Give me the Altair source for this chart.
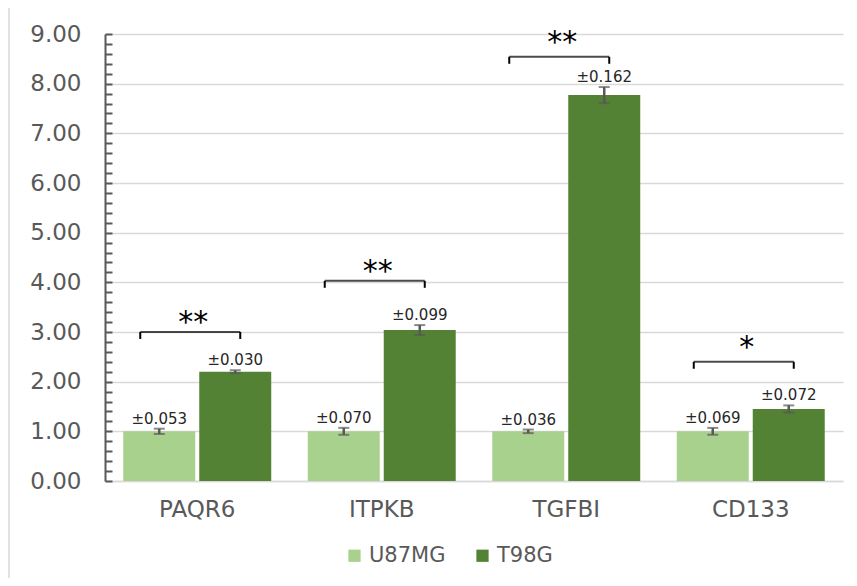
import altair as alt
import pandas as pd

categories = ["PAQR6", "ITPKB", "TGFBI", "CD133"]
series = ["U87MG", "T98G"]
u87_values = [1.00, 1.00, 1.00, 1.00]
t98_values = [2.20, 3.04, 7.77, 1.45]
u87_errors = [0.053, 0.070, 0.036, 0.069]
t98_errors = [0.030, 0.099, 0.162, 0.072]
sig_labels = ["**", "**", "**", "*"]
bracket_level = [3.00, 4.03, 8.54, 2.40]
star_level = [3.28, 4.31, 8.91, 2.78]
y_ticks = [0, 1, 2, 3, 4, 5, 6, 7, 8, 9]
y_minor = [round(i * 0.2, 1) for i in range(46)]

rows = []
for c, v, e in zip(categories, u87_values, u87_errors):
    rows.append({"category": c, "series": "U87MG", "value": v, "err": e})
for c, v, e in zip(categories, t98_values, t98_errors):
    rows.append({"category": c, "series": "T98G", "value": v, "err": e})
df = pd.DataFrame(rows)

sig = pd.DataFrame({"category": categories, "label": sig_labels,
                    "bracket": bracket_level, "star": star_level})

LIGHT = "#A9D18E"
DARK = "#548235"
GREY = "#595959"
GRID = "#D9D9D9"
FONT = "DejaVu Sans"
DROP = 0.14

xscale = alt.Scale(domain=categories, paddingInner=0.198, paddingOuter=0.099)
xoscale = alt.Scale(domain=series, paddingInner=0.0526, paddingOuter=0)
yscale = alt.Scale(domain=[0, 9], nice=False)

x_axis = alt.Axis(labelFont=FONT, labelFontSize=23, labelColor=GREY,
                  labelAngle=0, ticks=False, domainColor=GRID,
                  domainWidth=1.5, labelPadding=17, grid=False)
x_enc = alt.X("category:N", scale=xscale, sort=categories, title=None, axis=x_axis)
xo = alt.XOffset("series:N", scale=xoscale, sort=series)

base = alt.Chart(df)

bars = base.mark_bar().encode(
    x=x_enc,
    xOffset=xo,
    y=alt.Y("value:Q", scale=yscale, title=None,
            axis=alt.Axis(values=y_ticks, format=".2f", labelFont=FONT,
                          labelFontSize=23, labelColor=GREY, ticks=False,
                          labelPadding=24, domainColor=GREY, domainWidth=2,
                          gridColor=GRID, gridWidth=1.5, orient="left")),
    color=alt.Color("series:N", sort=series,
                    scale=alt.Scale(domain=series, range=[LIGHT, DARK]),
                    legend=alt.Legend(title=None, orient="none", direction="horizontal",
                                      legendX=239, legendY=511, symbolType="square",
                                      symbolSize=150, symbolStrokeWidth=0,
                                      labelFont=FONT, labelFontSize=21,
                                      labelColor=GREY, labelOffset=4,
                                      columnPadding=26)),
)

err_rule = base.transform_calculate(
    lo="datum.value - datum.err", hi="datum.value + datum.err"
).mark_rule(color=GREY, strokeWidth=2.5).encode(
    x=x_enc,
    xOffset=xo,
    y=alt.Y("lo:Q", scale=yscale, title=None,
            axis=alt.Axis(values=y_minor, labels=False, grid=False, domain=False,
                          tickSize=7, tickColor=GREY, tickWidth=2, offset=-7,
                          orient="left")),
    y2="hi:Q",
)

cap_top = base.transform_calculate(hi="datum.value + datum.err").mark_tick(
    color=GREY, thickness=2, size=11
).encode(x=x_enc, xOffset=xo, y=alt.Y("hi:Q", scale=yscale, axis=None))

cap_bot = base.transform_calculate(lo="datum.value - datum.err").mark_tick(
    color=GREY, thickness=2, size=11
).encode(x=x_enc, xOffset=xo, y=alt.Y("lo:Q", scale=yscale, axis=None))

err_text = base.transform_calculate(
    hi="datum.value + datum.err",
    txt="'±' + format(datum.err, '.3f')",
).mark_text(font=FONT, fontSize=15, color="#262626", baseline="alphabetic", dy=-5).encode(
    x=x_enc, xOffset=xo, y=alt.Y("hi:Q", scale=yscale, axis=None), text="txt:N"
)

sbase = alt.Chart(sig)

bracket_h = sbase.mark_tick(color="black", thickness=2, size=100, xOffset=-7).encode(
    x=x_enc, y=alt.Y("bracket:Q", scale=yscale, axis=None)
)
bracket_l = sbase.transform_calculate(b2=f"datum.bracket - {DROP}").mark_rule(
    color="black", strokeWidth=2, xOffset=-57
).encode(x=x_enc, y=alt.Y("bracket:Q", scale=yscale, axis=None), y2="b2:Q")
bracket_r = sbase.transform_calculate(b2=f"datum.bracket - {DROP}").mark_rule(
    color="black", strokeWidth=2, xOffset=43
).encode(x=x_enc, y=alt.Y("bracket:Q", scale=yscale, axis=None), y2="b2:Q")

stars = sbase.mark_text(font=FONT, fontSize=30, color="black", baseline="middle",
                        xOffset=-4, dy=5).encode(
    x=x_enc, y=alt.Y("star:Q", scale=yscale, axis=None), text="label:N"
)

frame_src = alt.Chart(pd.DataFrame({"k": [0]}))
frame_top = frame_src.mark_rule(stroke=GRID, strokeWidth=1.5).encode(
    x=alt.value(-96), x2=alt.value(2000), y=alt.value(-27)
)
frame_left = frame_src.mark_rule(stroke=GRID, strokeWidth=1.5).encode(
    x=alt.value(-96), y=alt.value(-27), y2=alt.value(2000)
)

chart = alt.layer(
    frame_top, frame_left, bars, err_rule, cap_top, cap_bot, err_text,
    bracket_h, bracket_l, bracket_r, stars
).resolve_axis(y="independent").resolve_scale(y="shared").properties(
    width=738, height=447,
    autosize=alt.AutoSizeParams(type="none"),
    padding={"left": 97, "top": 26, "right": 6, "bottom": 97},
).configure_view(stroke=None)

chart.save("out.html", embed_options={"renderer": "svg", "actions": False})
